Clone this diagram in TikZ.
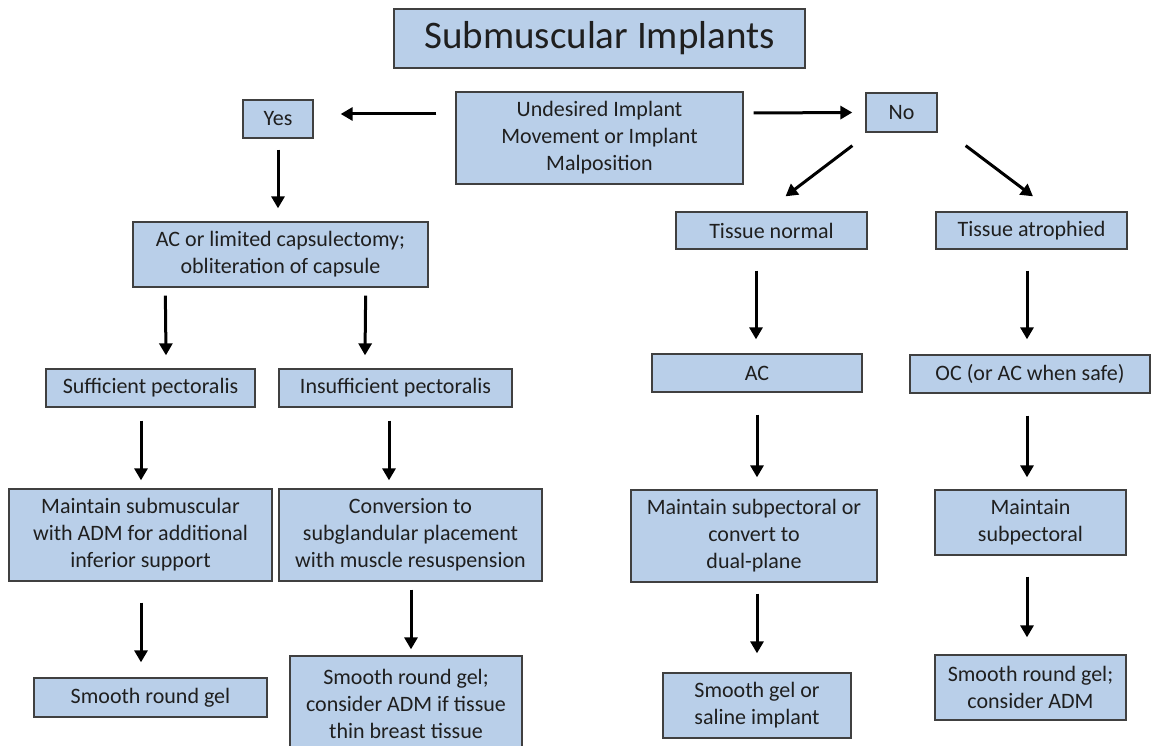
\documentclass[tikz,border=0pt]{standalone}
\usepackage{fontspec}
\setmainfont{Carlito}
\usetikzlibrary{arrows.meta}
\definecolor{boxblue}{RGB}{185,207,233}
\begin{document}
\begin{tikzpicture}[x=1pt,y=-1pt,
    box/.style={draw=black!75, fill=boxblue, line width=1.3pt, align=center,
      inner sep=0pt, text=black!88, font=\fontsize{22}{27}\selectfont},
    arr/.style={line width=3pt, -{Triangle[width=13pt,length=12pt]}}]
    \useasboundingbox (0,0) rectangle (1152,746);
    \clip (0,0) rectangle (1152,746);
    % top
    \node[box, minimum width=411pt, minimum height=59pt, font=\fontsize{39}{47}\selectfont] (title) at (599.5,38.5) {Submuscular Implants};
    \node[box, minimum width=287pt, minimum height=92pt] (undes) at (599.5,138) {Undesired Implant\\Movement or Implant\\Malposition};
    \node[box, minimum width=70pt, minimum height=38pt] (yes) at (278,119) {Yes};
    \node[box, minimum width=71pt, minimum height=39pt] (no) at (901.5,112.5) {No};
    % yes branch
    \node[box, minimum width=295pt, minimum height=65pt] (acl) at (280.5,254.5) {AC or limited capsulectomy;\\obliteration of capsule};
    \node[box, minimum width=209pt, minimum height=38pt] (suff) at (150.5,388) {Sufficient pectoralis};
    \node[box, minimum width=233pt, minimum height=38pt] (insuff) at (395.5,388) {Insufficient pectoralis};
    \node[box, minimum width=263pt, minimum height=92pt] (msub) at (140.5,535) {Maintain submuscular\\with ADM for additional\\inferior support};
    \node[box, minimum width=263pt, minimum height=92pt] (conv) at (410.5,535) {Conversion to\\subglandular placement\\with muscle resuspension};
    \node[box, minimum width=233pt, minimum height=39pt] (gelA) at (150.5,697.5) {Smooth round gel};
    \node[box, minimum width=232pt, minimum height=96pt] (thin) at (406,704) {Smooth round gel;\\consider ADM if tissue\\thin breast tissue};
    % no branch
    \node[box, minimum width=191pt, minimum height=37pt] (tnorm) at (771.5,230.5) {Tissue normal};
    \node[box, minimum width=191pt, minimum height=37pt] (tatro) at (1031.5,230.5) {Tissue atrophied};
    \node[box, minimum width=210pt, minimum height=38pt] (ac) at (757,373) {AC};
    \node[box, minimum width=240pt, minimum height=38pt] (oc) at (1030,374) {OC (or AC when safe)};
    \node[box, minimum width=246pt, minimum height=92pt] (mspc) at (754,536) {Maintain subpectoral or\\convert to\\dual-plane};
    \node[box, minimum width=191pt, minimum height=65pt] (msp) at (1030.5,522.5) {Maintain\\subpectoral};
    \node[box, minimum width=188pt, minimum height=65pt] (saline) at (757,705.5) {Smooth gel or\\saline implant};
    \node[box, minimum width=191pt, minimum height=65pt] (gelB) at (1030.5,687.5) {Smooth round gel;\\consider ADM};
    % arrows
    \draw[arr] ([xshift=-19pt,yshift=24pt]undes.west) -- ([xshift=27pt,yshift=5pt]yes.east);
    \draw[arr] ([xshift=10pt,yshift=25pt]undes.east) -- ([xshift=-13pt]no.west);
    \draw[arr] ([yshift=-11pt]yes.south) -- ([xshift=-2.5pt,yshift=13pt]acl.north);
    \draw[arr] ([xshift=-13pt,yshift=-13pt]no.south west) -- ([xshift=14pt,yshift=15pt]tnorm.north);
    \draw[arr] ([xshift=28pt,yshift=-13pt]no.south east) -- ([xshift=1.5pt,yshift=15pt]tatro.north);
    \draw[arr] ([xshift=33pt,yshift=-8pt]acl.south west) -- ([xshift=15.5pt,yshift=13pt]suff.north);
    \draw[arr] ([xshift=-63pt,yshift=-8pt]acl.south east) -- ([xshift=-30.5pt,yshift=13pt]insuff.north);
    \draw[arr] ([xshift=-9.5pt,yshift=-13pt]suff.south) -- ([xshift=0.5pt,yshift=8pt]msub.north);
    \draw[arr] ([xshift=-6.5pt,yshift=-13pt]insuff.south) -- ([xshift=-21.5pt,yshift=8pt]conv.north);
    \draw[arr] ([xshift=0.5pt,yshift=-21pt]msub.south) -- ([xshift=-9.5pt,yshift=15pt]gelA.north);
    \draw[arr] ([xshift=0.5pt,yshift=-8pt]conv.south) -- ([xshift=5pt,yshift=6pt]thin.north);
    \draw[arr] ([xshift=-15.5pt,yshift=-21pt]tnorm.south) -- ([xshift=-1pt,yshift=14pt]ac.north);
    \draw[arr] ([xshift=-4.5pt,yshift=-21pt]tatro.south) -- ([xshift=-3pt,yshift=15pt]oc.north);
    \draw[arr] ([yshift=-22pt]ac.south) -- ([xshift=3pt,yshift=12pt]mspc.north);
    \draw[arr] ([xshift=-3pt,yshift=-22pt]oc.south) -- ([xshift=-3.5pt,yshift=12pt]msp.north);
    \draw[arr] ([xshift=3pt,yshift=-11pt]mspc.south) -- ([yshift=19pt]saline.north);
    \draw[arr] ([xshift=-3.5pt,yshift=-21pt]msp.south) -- ([xshift=-3.5pt,yshift=17pt]gelB.north);
\end{tikzpicture}
\end{document}
